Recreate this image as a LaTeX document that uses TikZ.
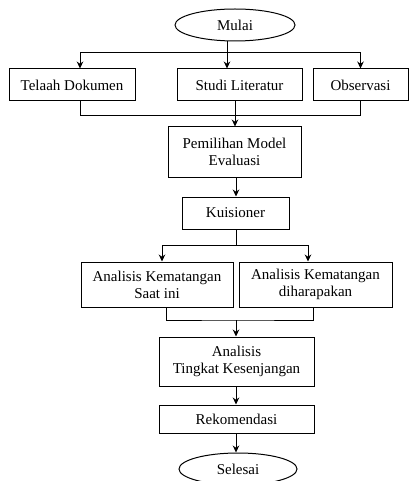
\documentclass[tikz,border=0pt]{standalone}
\usepackage{fontspec}
\setmainfont{Liberation Serif}
\usetikzlibrary{shapes.geometric, arrows.meta}

\begin{document}
\begin{tikzpicture}
            [x=1pt, y=-1pt, >={Stealth[length=7pt,width=6.5pt]}, line width=0.8pt,
             kotak/.style={shape=rectangle, draw=black, line width=1pt, inner sep=0pt, align=center,
                           font=\fontsize{15}{17}\selectfont},
             elips/.style={shape=ellipse, draw=black, line width=1pt, inner sep=0pt,
                           font=\fontsize{15}{17}\selectfont}]
            \useasboundingbox (0, 0) rectangle (417, 481);
            \node[elips, minimum width=120pt, minimum height=32pt] (mulai) at (235, 25) {Mulai};
            \node[kotak, minimum width=126pt, minimum height=32pt] (telaah) at (72, 85) {Telaah Dokumen};
            \node[kotak, minimum width=125pt, minimum height=32pt] (studi) at (239.5, 85) {Studi Literatur};
            \node[kotak, minimum width=95pt, minimum height=32pt] (observasi) at (360.5, 85) {Observasi};
            \node[kotak, minimum width=133pt, minimum height=50pt] (pemilihan) at (234.5, 152) {Pemilihan Model\\Evaluasi};
            \node[kotak, minimum width=107pt, minimum height=32pt] (kuisioner) at (235.5, 213) {Kuisioner};
            \node[kotak, minimum width=152pt, minimum height=45pt] (saatini) at (157, 284.5) {Analisis Kematangan\\Saat ini};
            \node[kotak, minimum width=153pt, minimum height=45pt] (harapan) at (315.5, 284.5) {Analisis Kematangan\\diharapakan};
            \node[kotak, minimum width=155pt, minimum height=49pt] (kesenjangan) at (236.5, 361.5) {Analisis\\Tingkat Kesenjangan};
            \node[kotak, minimum width=155pt, minimum height=28pt] (rekomendasi) at (236.5, 419) {Rekomendasi};
            \node[elips, minimum width=118pt, minimum height=32pt] (selesai) at (238, 469) {Selesai};

            \coordinate (cabang1) at (227, 52);
            \coordinate (gabung1) at (235, 115);
            \coordinate (cabang2) at (236, 245);
            \coordinate (gabung2) at (236, 320);

            \draw (cabang1 |- mulai.south) -- (cabang1);
            \draw [->] (cabang1) -| ([xshift=8pt]telaah.north);
            \draw [->] (cabang1) -- (cabang1 |- studi.north);
            \draw [->] (cabang1) -| (observasi.north);
            \draw ([xshift=8pt]telaah.south) |- (observasi.south |- gabung1) -- (observasi.south);
            \draw [->] (studi.south -| gabung1) -- (pemilihan.north -| gabung1);
            \draw [->] (pemilihan.south -| cabang2) -- (kuisioner.north -| cabang2);
            \draw (kuisioner.south -| cabang2) -- (cabang2);
            \draw [->] (cabang2) -| ([xshift=5pt]saatini.north);
            \draw [->] (cabang2) -| ([xshift=-7.5pt]harapan.north);
            \draw ([xshift=9pt]saatini.south) |- (gabung2) -| ([xshift=-2.5pt]harapan.south);
            \draw [->] (gabung2) -- (kesenjangan.north -| gabung2);
            \draw [->] (kesenjangan.south -| gabung2) -- (rekomendasi.north -| gabung2);
            \draw [->] (rekomendasi.south -| gabung2) -- (selesai.north -| gabung2);
        \end{tikzpicture}
\end{document}
